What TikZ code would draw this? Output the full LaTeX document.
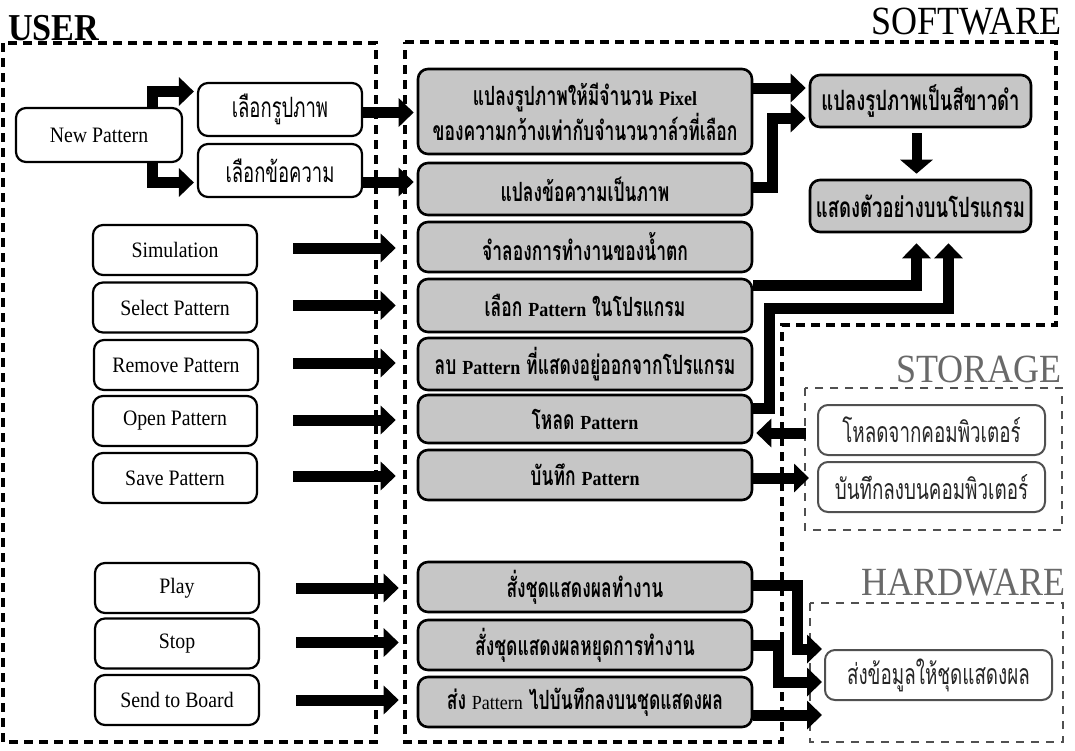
\documentclass[tikz,border=0pt]{standalone}
\usepackage{fontspec}
\setmainfont{Liberation Serif}[FakeStretch=0.9]
\newfontfamily\thaif{Loma}[Script=Thai,FakeStretch=0.66]
\usetikzlibrary{arrows.meta}
\definecolor{swgray}{RGB}{198,198,198}
\definecolor{dimgrey}{RGB}{80,80,80}
\definecolor{labgrey}{RGB}{105,105,105}
\newcommand\latw[1]{{\rmfamily\fontsize{20}{33}\selectfont #1}}
\begin{document}
\begin{tikzpicture}[x=1pt,y=-1pt,
  ubox/.style={draw=black,line width=2.2pt,rounded corners=10pt,fill=white,
    minimum width=164pt,minimum height=50pt,inner sep=0pt,
    font=\fontsize{22}{24}\selectfont},
  uthai/.style={font=\thaif\fontsize{28}{30}\selectfont},
  swbox/.style={draw=black,line width=2.6pt,rounded corners=10pt,fill=swgray,
    minimum width=334pt,minimum height=50pt,inner sep=0pt,align=center,
    font=\thaif\bfseries\fontsize{26.5}{33}\selectfont},
  swbig/.style={font=\thaif\bfseries\fontsize{28}{33}\selectfont},
  gbox/.style={draw=dimgrey,line width=2pt,rounded corners=10pt,fill=white,
    minimum width=227pt,minimum height=50pt,inner sep=0pt,text=black!85,
    font=\thaif\fontsize{28.5}{30}\selectfont},
  title/.style={inner sep=0pt,font=\fontsize{40}{40}\selectfont},
  dashA/.style={draw=black,line width=3.5pt,dash pattern=on 9pt off 6pt},
  dashB/.style={draw=dimgrey,line width=2.5pt,dash pattern=on 8pt off 7pt},
  arr/.style={draw=black,line width=11pt,line join=miter,
    -{Triangle[width=28pt,length=15pt]}},
  arrdown/.style={draw=black,line width=10pt,
    -{Triangle[width=32pt,length=14pt]}}
]
\useasboundingbox (0,0) rectangle (1075,750);
\fill[white] (0,0) rectangle (1075,750);

% group outlines
\draw[dashA] (3,43) rectangle (376,742);
\draw[dashA] (405,42) -- (1056,42) -- (1056,325) -- (782,325) -- (782,742) -- (405,742) -- cycle;
\draw[dashB] (805,388) rectangle (1062,530);
\draw[dashB] (810,603) rectangle (1063,742);

% titles
\node[title,anchor=base west,font=\fontsize{38}{40}\selectfont\bfseries] (tuser) at (8,40) {USER};
\node[title,anchor=base east] (tsoft) at (1062,34) {SOFTWARE};
\node[title,anchor=base east,text=labgrey] (tstor) at (1062,382) {STORAGE};
\node[title,anchor=base east,text=labgrey] (thard) at (1066,595) {HARDWARE};

% user nodes
\node[ubox,minimum width=166pt,minimum height=54pt] (np) at (99,135) {New Pattern};
\node[ubox,uthai,minimum height=53pt] (selimg) at (280,109.5) {เลือกรูปภาพ};
\node[ubox,uthai,minimum height=53pt] (seltxt) at (280,170.5) {เลือกข้อความ};
\node[ubox] (sim) at (175,250) {Simulation};
\node[ubox] (selp) at (175,307.5) {Select Pattern};
\node[ubox] (remp) at (176,365) {Remove Pattern};
\node[ubox] (openp) at (175,421) {Open Pattern};
\node[ubox] (savep) at (175,478) {Save Pattern};
\node[ubox] (play) at (177,588) {Play};
\node[ubox] (stop) at (177,643.5) {Stop};
\node[ubox] (send) at (177,700) {Send to Board};

% software nodes
\node[swbox,minimum height=85pt] (sw1) at (585,111.5) {แปลงรูปภาพให้มีจำนวน \latw{Pixel}\\ของความกว้างเท่ากับจำนวนวาล์วที่เลือก};
\node[swbox,minimum height=52pt] (sw2) at (585,189) {แปลงข้อความเป็นภาพ};
\node[swbox] (sw3) at (585,247) {จำลองการทำงานของน้ำตก};
\node[swbox,minimum height=53pt] (sw4) at (585,305.5) {เลือก \latw{Pattern} ในโปรแกรม};
\node[swbox,minimum height=52pt] (sw5) at (585,364) {ลบ \latw{Pattern} ที่แสดงอยู่ออกจากโปรแกรม};
\node[swbox,minimum height=48pt] (sw6) at (585,419) {โหลด \latw{Pattern}};
\node[swbox] (sw7) at (585,475) {บันทึก \latw{Pattern}};
\node[swbox] (sw8) at (585,587) {สั่งชุดแสดงผลทำงาน};
\node[swbox] (sw9) at (585,645) {สั่งชุดแสดงผลหยุดการทำงาน};
\node[swbox] (sw10) at (585,702) {ส่ง \latw{\mdseries Pattern} ไปบันทึกลงบนชุดแสดงผล};
\node[swbox,swbig,minimum width=221pt,minimum height=52pt] (bw) at (920.5,101) {แปลงรูปภาพเป็นสีขาวดำ};
\node[swbox,swbig,minimum width=221pt,minimum height=52pt] (prev) at (920.5,206) {แสดงตัวอย่างบนโปรแกรม};

% storage / hardware nodes
\node[gbox] (load) at (931.5,430) {โหลดจากคอมพิวเตอร์};
\node[gbox] (save) at (931.5,487) {บันทึกลงบนคอมพิวเตอร์};
\node[gbox] (hw) at (938.5,675) {ส่งข้อมูลให้ชุดแสดงผล};

% arrows: user
\draw[arr,shorten >=3pt] ([xshift=53pt]np.north) |- ([yshift=18pt]selimg.west);
\draw[arr,shorten >=3pt] ([xshift=53pt]np.south) |- ([yshift=-12pt]seltxt.west);
\draw[arr,shorten >=3pt] ([yshift=-3pt]selimg.east) -- ([yshift=-3pt]selimg.east -| sw1.west);
\draw[arr,shorten >=3pt] ([yshift=-11.5pt]seltxt.east) -- ([yshift=-11.5pt]seltxt.east -| sw2.west);
\draw[arr,shorten >=21pt] ([xshift=35pt,yshift=2pt]sim.east) -- ([yshift=2pt]sim.east -| sw3.west);
\draw[arr,shorten >=21pt] ([xshift=35pt,yshift=2pt]selp.east) -- ([yshift=2pt]selp.east -| sw4.west);
\draw[arr,shorten >=21pt] ([xshift=34pt,yshift=2pt]remp.east) -- ([yshift=2pt]remp.east -| sw5.west);
\draw[arr,shorten >=21pt] ([xshift=35pt,yshift=1pt]openp.east) -- ([yshift=1pt]openp.east -| sw6.west);
\draw[arr,shorten >=21pt] ([xshift=35pt,yshift=2pt]savep.east) -- ([yshift=2pt]savep.east -| sw7.west);
\draw[arr,shorten >=18pt] ([xshift=36pt]play.east) -- (play.east -| sw8.west);
\draw[arr,shorten >=18pt] ([xshift=36pt,yshift=1pt]stop.east) -- ([yshift=1pt]stop.east -| sw9.west);
\draw[arr,shorten >=18pt] ([xshift=36pt]send.east) -- (send.east -| sw10.west);

% arrows: software
\draw[arr,shorten >=3pt] ([yshift=23.5pt]sw1.east) -- ([yshift=23.5pt]sw1.east -| bw.west);
\draw[arr,shorten >=3pt] ([yshift=2pt]sw2.east) -- ++(19,0) |- ([yshift=-17pt]bw.west);
\draw[arrdown,shorten <=5pt,shorten >=5pt] ([xshift=-4pt]bw.south) -- ([xshift=-4pt]prev.north);
\draw[arr,shorten >=10pt] ([yshift=20.5pt]sw4.east) -| ([xshift=-4pt]prev.south);
\draw[arr,shorten >=10pt] ([yshift=11pt]sw6.east) -- ++(16,0) -- ++(0,-100) -| ([xshift=28pt]prev.south);

% arrows: storage
\draw[arr,shorten <=11pt,shorten >=3pt] ([yshift=-3pt]load.west) -- ([yshift=-3pt]load.west -| sw6.east);
\draw[arr,shorten >=8pt] ([yshift=-3pt]sw7.east) -- ([yshift=-3pt]sw7.east -| save.west);

% arrows: hardware
\draw[arr,shorten >=2pt] ([yshift=2pt]sw8.east) -- ++(44,0) |- ([yshift=26pt]hw.west);
\draw[arr,shorten >=2pt] (sw9.east) -- ++(25,0) |- ([yshift=-7pt]hw.west);
\draw[arr,shorten >=2pt] ([yshift=-13pt]sw10.east) -- ([yshift=-13pt]sw10.east -| hw.west);
\end{tikzpicture}
\end{document}
